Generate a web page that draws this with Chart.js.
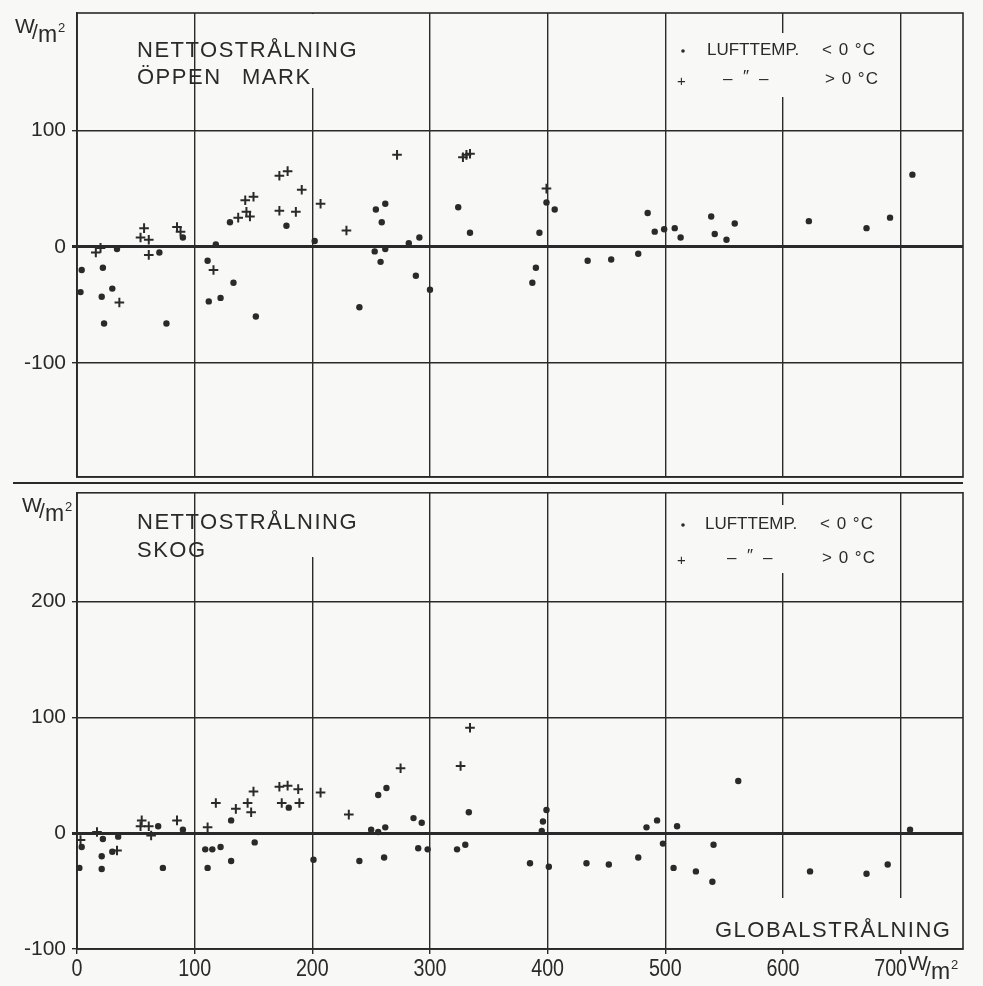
<!DOCTYPE html>
<html>
<head>
<meta charset="utf-8">
<title>Nettostrålning</title>
<script src="https://cdn.jsdelivr.net/npm/chart.js@4.4.1/dist/chart.umd.min.js"></script>
<style>
  html, body { margin: 0; padding: 0; background: #f8f8f6; }
  #wrap { position: relative; width: 983px; height: 986px; }
  #wrap canvas { position: absolute; left: 0; }
  #openChart { top: 0; }
  #forestChart { top: 486px; }
</style>
</head>
<body>
<div id="wrap">
  <canvas id="openChart" width="983" height="486"></canvas>
  <canvas id="forestChart" width="983" height="500"></canvas>
</div>
<script>
// ── Data (global radiation W/m², net radiation W/m²) ─────────────────────
// open field, air temp < 0 °C
const OPEN_COLD = [
  [3,-39],[4,-20],[21,-43],[22,-18],[23,-66],[30,-36],[34,-2],[70,-5],[76,-66],[90,8],
  [111,-12],[112,-47],[118,2],[122,-44],[130,21],[133,-31],[152,-60],[178,18],[202,5],
  [240,-52],[253,-4],[254,32],[258,-13],[259,21],[262,37],[262,-2],[282,3],[288,-25],
  [291,8],[300,-37],[324,34],[334,12],[387,-31],[390,-18],[393,12],[399,38],[406,32],
  [434,-12],[454,-11],[477,-6],[485,29],[491,13],[499,15],[508,16],[513,8],[539,26],
  [542,11],[552,6],[559,20],[622,22],[671,16],[691,25],[710,62]
];
// open field, air temp > 0 °C
const OPEN_WARM = [
  [16,-5],[20,-1],[36,-48],[54,8],[57,16],[61,6],[61,-7],[85,17],[88,13],[116,-20],
  [137,25],[143,40],[144,30],[147,26],[150,43],[172,31],[172,61],[179,65],[186,30],
  [191,49],[207,37],[229,14],[272,79],[328,77],[331,79],[334,80],[399,50]
];
// forest, air temp < 0 °C
const FOREST_COLD = [
  [2,-30],[4,-12],[21,-20],[21,-31],[22,-5],[30,-16],[35,-3],[69,6],[73,-30],[90,3],
  [109,-14],[111,-30],[115,-14],[122,-12],[131,11],[131,-24],[151,-8],[180,22],[201,-23],
  [240,-24],[250,3],[256,1],[256,33],[261,-21],[262,5],[263,39],[286,13],[290,-13],
  [293,9],[298,-14],[323,-14],[330,-10],[333,18],[385,-26],[395,2],[396,10],[399,20],
  [401,-29],[433,-26],[452,-27],[477,-21],[484,5],[493,11],[498,-9],[507,-30],[510,6],
  [526,-33],[540,-42],[541,-10],[562,45],[623,-33],[671,-35],[689,-27],[708,3]
];
// forest, air temp > 0 °C
const FOREST_WARM = [
  [3,-6],[17,1],[34,-15],[54,6],[55,11],[61,6],[63,-2],[85,11],[111,5],[118,26],
  [135,21],[145,26],[148,18],[150,36],[172,40],[174,26],[179,41],[188,38],[189,26],
  [207,35],[231,16],[275,56],[326,58],[334,91]
];

const X_TICKS = [0, 100, 200, 300, 400, 500, 600, 700];
const OPEN_Y_TICKS = [-100, 0, 100];
const FOREST_Y_TICKS = [-100, 0, 100, 200];

// ── Styling ────────────────────────────────────────────────────────────────
const INK = '#2a2a2a';
const PAPER = '#f8f8f6';
const FONT = '"Liberation Sans", Arial, sans-serif';

const toPts = arr => arr.map(([x, y]) => ({ x, y }));

function txt(ctx, s, x, y, size, spacing) {
  ctx.font = size + 'px ' + FONT;
  ctx.letterSpacing = (spacing || 0) + 'px';
  ctx.textAlign = 'left';
  ctx.textBaseline = 'alphabetic';
  ctx.fillStyle = INK;
  ctx.fillText(s, x, y);
  ctx.letterSpacing = '0px';
}

// "W/m²" drawn the way the drawing does it
function unit(ctx, x, y) {
  txt(ctx, 'W', x, y, 21);
  txt(ctx, '/', x + 17, y + 6, 21);
  txt(ctx, 'm', x + 23, y + 9, 23);
  txt(ctx, '2', x + 43, y - 1, 13);
}

// paint over a piece of a grid line (the original leaves gaps behind text)
function gap(ctx, chart, xVal, y1, y2) {
  const x = chart.scales.x.getPixelForValue(xVal);
  ctx.fillStyle = PAPER;
  ctx.fillRect(x - 3, y1, 6, y2 - y1);
}

function frame(ctx, a) {
  ctx.strokeStyle = INK;
  ctx.lineWidth = 1.6;
  ctx.strokeRect(a.left, a.top, a.right - a.left, a.bottom - a.top);
}

function legend(ctx, y1, y2, xs) {
  ctx.fillStyle = INK;
  ctx.beginPath();
  ctx.arc(683, y1 - 4, 1.8, 0, Math.PI * 2);
  ctx.fill();
  txt(ctx, 'LUFTTEMP.', xs[0], y1, 17);
  txt(ctx, '< 0 °C', xs[1], y1, 17, 1);
  txt(ctx, '+', 677, y2 + 2, 15);
  txt(ctx, '–', xs[2], y2, 17);
  txt(ctx, '″', xs[2] + 20, y2 - 2, 17);
  txt(ctx, '–', xs[2] + 36, y2, 17);
  txt(ctx, '> 0 °C', xs[3], y2, 17, 1);
}

function yScale(min, max, ticks) {
  return {
    type: 'linear', min, max,
    afterBuildTicks: s => { s.ticks = ticks.map(v => ({ value: v })); },
    afterFit: s => { s.width = 77; s.paddingTop = 0; s.paddingBottom = 0; },
    grid: {
      color: INK,
      lineWidth: c => (c.tick && c.tick.value === 0 ? 3 : 1.4),
      tickLength: 5
    },
    border: { display: true, color: INK, width: 1.6 },
    ticks: {
      color: INK, padding: 6,
      font: { family: FONT, size: 21 },
      callback: v => String(v)
    }
  };
}

function xScale(height, drawTicks) {
  return {
    type: 'linear', min: 0, max: 753,
    afterBuildTicks: s => { s.ticks = X_TICKS.map(v => ({ value: v })); },
    afterFit: s => { s.height = height; s.paddingLeft = 0; s.paddingRight = 0; },
    grid: { color: INK, lineWidth: 1.4, drawTicks, tickLength: 5 },
    border: { display: true, color: INK, width: 1.6 },
    ticks: { display: false }
  };
}

function datasets(cold, warm) {
  return [
    {
      data: toPts(cold), pointStyle: 'circle', pointRadius: 3.2,
      backgroundColor: INK, borderWidth: 0
    },
    {
      data: toPts(warm), pointStyle: 'cross', pointRadius: 4.8,
      borderColor: INK, borderWidth: 2
    }
  ];
}

const common = {
  responsive: false,
  animation: false,
  events: [],
  plugins: { legend: { display: false }, tooltip: { enabled: false } }
};

// ── Top panel: open field ─────────────────────────────────────────────────
new Chart(document.getElementById('openChart'), {
  type: 'scatter',
  data: { datasets: datasets(OPEN_COLD, OPEN_WARM) },
  options: {
    ...common,
    layout: { padding: { top: 13, right: 20, bottom: 0, left: 0 } },
    scales: { x: xScale(9, false), y: yScale(-198, 201, OPEN_Y_TICKS) }
  },
  plugins: [{
    id: 'openDecor',
    beforeDatasetsDraw(chart) {
      const ctx = chart.ctx, a = chart.chartArea;
      ctx.save();
      gap(ctx, chart, 200, a.top + 1, 88);
      gap(ctx, chart, 600, 33, 97);
      frame(ctx, a);
      // double rule between the panels
      ctx.strokeStyle = INK;
      ctx.lineWidth = 2;
      ctx.beginPath();
      ctx.moveTo(13, 483);
      ctx.lineTo(a.right, 483);
      ctx.stroke();
      unit(ctx, 15, 33);
      txt(ctx, 'NETTOSTRÅLNING', 137, 57, 22, 1.5);
      txt(ctx, 'ÖPPEN', 137, 84, 22, 1.5);
      txt(ctx, 'MARK', 242, 84, 22, 1.5);
      legend(ctx, 55, 84, [707, 822, 723, 825]);
      ctx.restore();
    }
  }]
});

// ── Bottom panel: forest ──────────────────────────────────────────────────
new Chart(document.getElementById('forestChart'), {
  type: 'scatter',
  data: { datasets: datasets(FOREST_COLD, FOREST_WARM) },
  options: {
    ...common,
    layout: { padding: { top: 3, right: 20, bottom: 0, left: 0 } },
    scales: { x: xScale(37, true), y: yScale(-100, 293.8, FOREST_Y_TICKS) }
  },
  plugins: [{
    id: 'forestDecor',
    beforeDatasetsDraw(chart) {
      const ctx = chart.ctx, a = chart.chartArea;
      ctx.save();
      gap(ctx, chart, 200, 7, 71);
      gap(ctx, chart, 600, 19, 87);
      gap(ctx, chart, 600, 412, a.bottom - 1);
      gap(ctx, chart, 700, 412, a.bottom - 1);
      frame(ctx, a);
      unit(ctx, 22, 26);
      txt(ctx, 'NETTOSTRÅLNING', 137, 43, 22, 1.5);
      txt(ctx, 'SKOG', 137, 71, 22, 1.5);
      legend(ctx, 43, 77, [705, 820, 727, 822]);
      txt(ctx, 'GLOBALSTRÅLNING', 715, 451, 22, 1.5);

      // x tick labels, narrow lettering like the drawing
      const xs = chart.scales.x;
      xs.ticks.forEach(t => {
        const px = xs.getPixelForValue(t.value) - (t.value === 700 ? 10 : 0);
        ctx.save();
        ctx.translate(px, 490);
        ctx.scale(0.82, 1);
        ctx.font = '24px ' + FONT;
        ctx.textAlign = 'center';
        ctx.fillStyle = INK;
        ctx.fillText(String(t.value), 0, 0);
        ctx.restore();
      });
      unit(ctx, 908, 484);
      ctx.restore();
    }
  }]
});
</script>
</body>
</html>
